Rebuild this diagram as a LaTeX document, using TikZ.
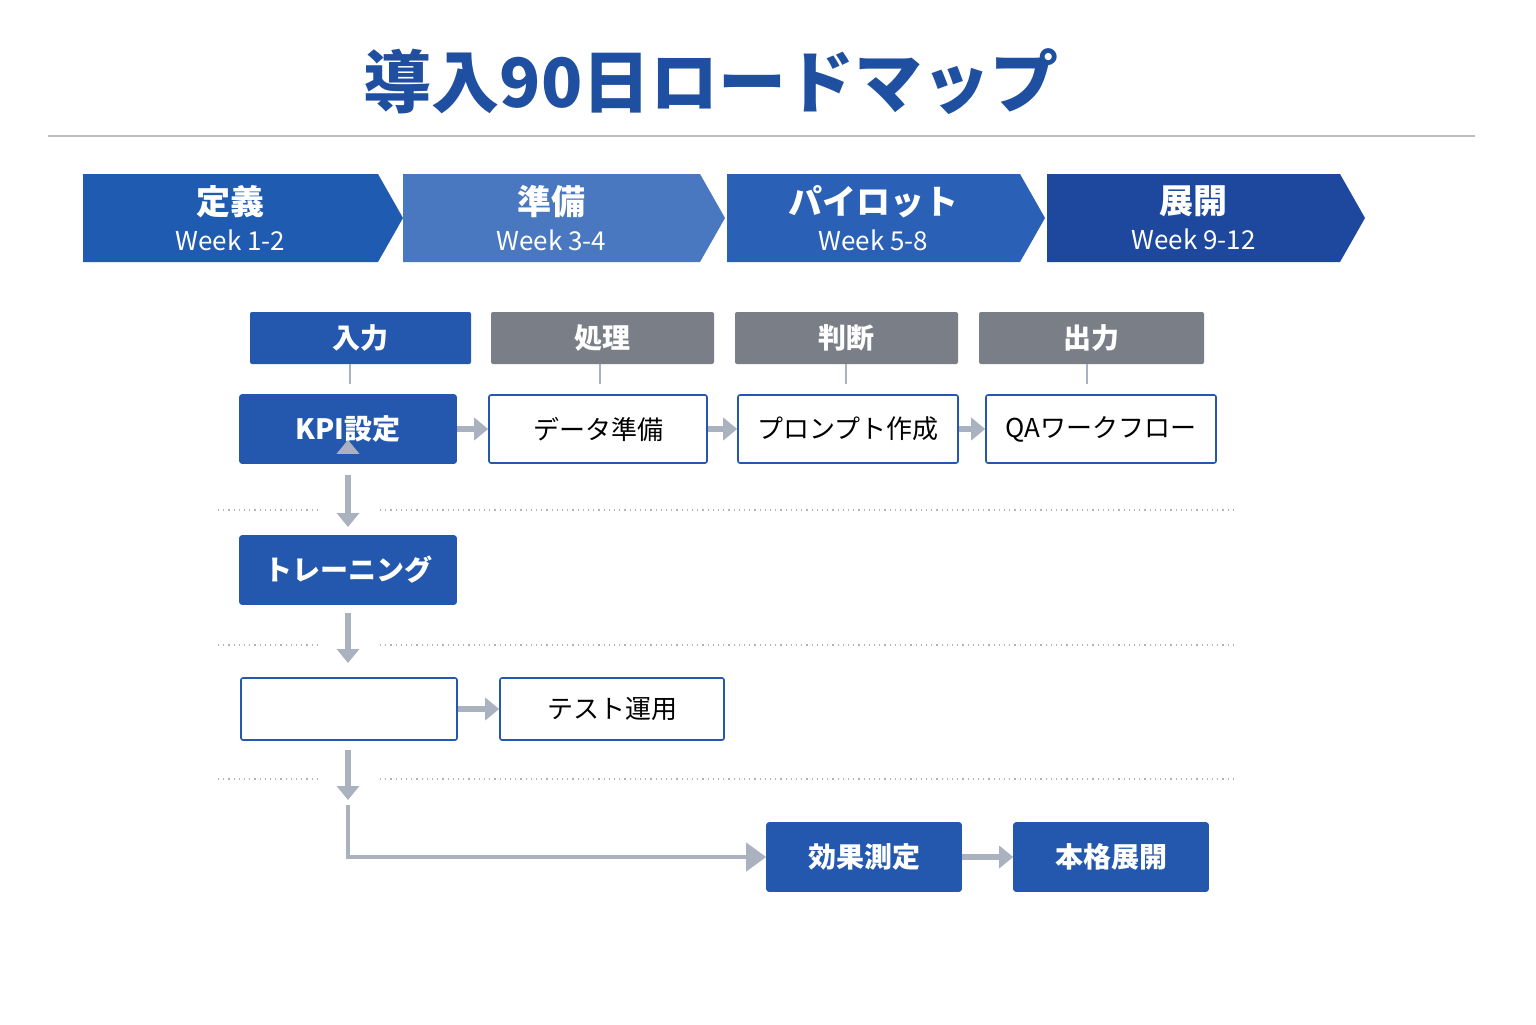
\documentclass[tikz,border=0pt]{standalone}
\usepackage{fontspec}
\setmainfont{Noto Sans CJK JP}
\usetikzlibrary{arrows.meta}
\definecolor{tblue}{HTML}{1F4FA0}
\definecolor{bblue}{HTML}{2358AE}
\definecolor{c1}{HTML}{1F5BB0}
\definecolor{c2}{HTML}{4A78C0}
\definecolor{c3}{HTML}{2A60B5}
\definecolor{c4}{HTML}{1E479E}
\definecolor{hgray}{HTML}{7A7E86}
\definecolor{agray}{HTML}{AAB2BF}
\begin{document}
\begin{tikzpicture}[x=0.5pt,y=-0.5pt,
  chev/.style={font=\bfseries\fontsize{17}{20}\selectfont,text=white,align=center},
  hdr/.style={font=\bfseries\fontsize{14}{16}\selectfont,text=white},
  fbox/.style={draw=bblue,fill=bblue,line width=0.8pt,rounded corners=1pt,text=white,font=\bfseries\fontsize{14}{16}\selectfont},
  wbox/.style={draw=bblue,fill=white,line width=0.8pt,rounded corners=1pt,text=black,font=\fontsize{13}{16}\selectfont},
  garr/.style={draw=agray,line width=3pt,-{Triangle[length=7pt,width=11pt]}},
  dots/.style={draw=gray!60,dotted,line width=0.6pt}]
\useasboundingbox[fill=white] (0,0) rectangle (1536,1024);
\node[text=tblue,font=\bfseries\fontsize{34}{40}\selectfont] (title) at (711,82) {導入90日ロードマップ};
\draw[gray!50,line width=0.6pt] (48,136) -- (1475,136);
% chevrons
\foreach \a/\b/\c/\n in {83/378/c1/p1,403/700/c2/p2,727/1020/c3/p3,1047/1340/c4/p4}{
  \fill[\c] (\a,174) -- (\b,174) -- (\b+25,218) -- (\b,262) -- (\a,262) -- cycle;
  \coordinate (\n) at ({(\a+\b)/2},218);
}
\node[chev] at (p1) {定義\\[-2pt]{\mdseries\fontsize{13}{16}\selectfont Week 1-2}};
\node[chev] at (p2) {準備\\[-2pt]{\mdseries\fontsize{13}{16}\selectfont Week 3-4}};
\node[chev] at (p3) {パイロット\\[-2pt]{\mdseries\fontsize{13}{16}\selectfont Week 5-8}};
\node[chev] at (p4) {展開\\[-2pt]{\mdseries\fontsize{13}{16}\selectfont Week 9-12}};
% headers
\foreach \a/\b/\c/\t/\n in {250/471/bblue/入力/h1,491/714/hgray/処理/h2,735/958/hgray/判断/h3,979/1204/hgray/出力/h4}{
  \fill[\c,rounded corners=1pt] (\a,312) rectangle (\b,364);
  \node[hdr] (\n) at ({(\a+\b)/2},338) {\t};
}
\foreach \x in {350,600,846,1087}{\draw[agray,line width=1pt] (\x,364) -- (\x,384);}
% row 1
\node[fbox,minimum width=108pt,minimum height=34pt] (kpi) at (348,429) {KPI設定};
\node[wbox,minimum width=109pt,minimum height=34pt] (data) at (598,429) {データ準備};
\node[wbox,minimum width=110pt,minimum height=34pt] (prom) at (848,429) {プロンプト作成};
\node[wbox,minimum width=115pt,minimum height=34pt] (qa) at (1101,429) {QAワークフロー};
\draw[garr] (kpi) -- (data);
\draw[garr] (data) -- (prom);
\draw[garr] (prom) -- (qa);
% dotted
\foreach \y in {510,645,779}{\draw[dots] (218,\y) -- (320,\y); \draw[dots] (380,\y) -- (1235,\y);}
\node[fbox,minimum width=108pt,minimum height=34pt] (tr) at (348,570) {トレーニング};
\node[wbox,minimum width=108pt,minimum height=31pt] (emp) at (349,709) {};
\node[wbox,minimum width=112pt,minimum height=31pt] (test) at (612,709) {テスト運用};
\draw[garr] (kpi.south) ++(0,12pt) coordinate (k1);
\draw[garr] (348,475) -- (348,527);
\draw[garr] (348,613) -- (348,663);
\draw[garr] (348,750) -- (348,800);
\draw[garr] (emp) -- (test);
\node[fbox,minimum width=97pt,minimum height=34pt] (eff) at (864,857) {効果測定};
\node[fbox,minimum width=97pt,minimum height=34pt] (full) at (1111,857) {本格展開};
\coordinate (c0) at (348,805);
\draw[agray,line width=2pt,-{Triangle[length=10pt,width=14pt]}] (c0) |- (eff.west);
\draw[garr] (eff) -- (full);
\end{tikzpicture}
\end{document}
